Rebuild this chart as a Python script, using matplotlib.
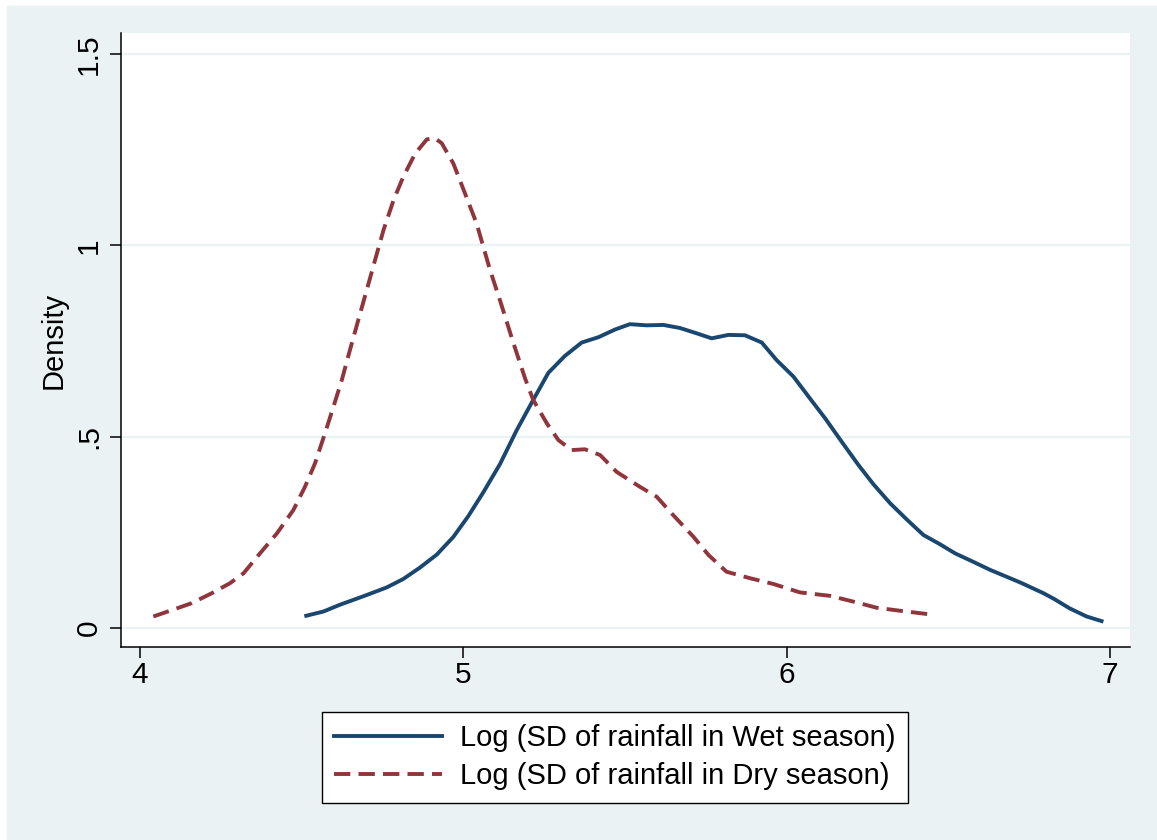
import matplotlib
matplotlib.use("Agg")
import matplotlib.pyplot as plt
from matplotlib.patches import Rectangle

plt.rcParams['font.family'] = ['Liberation Sans', 'DejaVu Sans']

# kernel density estimates
wet_x = [4.514, 4.567, 4.619, 4.691, 4.763, 4.814, 4.866, 4.918, 4.969, 5.015,
         5.062, 5.113, 5.165, 5.216, 5.263, 5.314, 5.366, 5.418, 5.469, 5.515,
         5.567, 5.619, 5.670, 5.722, 5.768, 5.820, 5.871, 5.923, 5.969, 6.021,
         6.072, 6.119, 6.170, 6.222, 6.268, 6.320, 6.371, 6.423, 6.474, 6.521,
         6.577, 6.629, 6.680, 6.725, 6.794, 6.827, 6.876, 6.928, 6.974]
wet_y = [0.032, 0.043, 0.061, 0.083, 0.106, 0.128, 0.158, 0.192, 0.238, 0.292,
         0.355, 0.428, 0.517, 0.596, 0.667, 0.711, 0.746, 0.760, 0.780, 0.794,
         0.791, 0.792, 0.784, 0.770, 0.757, 0.766, 0.765, 0.746, 0.700, 0.657,
         0.600, 0.548, 0.487, 0.426, 0.376, 0.326, 0.284, 0.243, 0.219, 0.195,
         0.173, 0.152, 0.134, 0.118, 0.091, 0.076, 0.051, 0.030, 0.018]

dry_x = [4.041, 4.113, 4.160, 4.222, 4.278, 4.320, 4.371, 4.423, 4.474, 4.510,
         4.541, 4.572, 4.598, 4.624, 4.649, 4.675, 4.701, 4.727, 4.753, 4.784,
         4.814, 4.851, 4.887, 4.912, 4.933, 4.969, 5.005, 5.041, 5.082, 5.113,
         5.155, 5.191, 5.216, 5.258, 5.294, 5.335, 5.376, 5.423, 5.474, 5.546,
         5.598, 5.649, 5.711, 5.758, 5.814, 5.887, 5.959, 6.041, 6.134, 6.206,
         6.278, 6.351, 6.459]
dry_y = [0.030, 0.051, 0.065, 0.091, 0.117, 0.143, 0.195, 0.247, 0.308, 0.369,
         0.430, 0.509, 0.578, 0.648, 0.726, 0.805, 0.883, 0.962, 1.040, 1.118,
         1.179, 1.240, 1.277, 1.280, 1.267, 1.214, 1.136, 1.057, 0.937, 0.857,
         0.744, 0.652, 0.596, 0.535, 0.491, 0.465, 0.467, 0.452, 0.408, 0.369,
         0.343, 0.295, 0.239, 0.191, 0.147, 0.130, 0.115, 0.093, 0.084, 0.069,
         0.053, 0.045, 0.034]

x_ticks = [4, 5, 6, 7]
x_ticklabels = ['4', '5', '6', '7']
y_ticks = [0, 0.5, 1, 1.5]
y_ticklabels = ['0', '.5', '1', '1.5']

wet_label = 'Log (SD of rainfall in Wet season)'
dry_label = 'Log (SD of rainfall in Dry season)'

NAVY = '#1A476F'
MAROON = '#90353B'
BG = '#EAF2F3'

W, H = 1157, 840
fig = plt.figure(figsize=(W / 100, H / 100), dpi=100, facecolor='white')
# Stata-style light background (the picture is cropped, thin white strip top/left)
fig.patches.append(Rectangle((7 / W, 0), 1 - 7 / W, (H - 6) / H,
                             transform=fig.transFigure, color=BG, zorder=-10))

ax = fig.add_axes([121 / W, 1 - 647 / H, 1009 / W, 614 / H])
ax.set_facecolor('white')

ax.plot(wet_x, wet_y, color=NAVY, linewidth=2.8, label=wet_label,
        solid_joinstyle='round')
ax.plot(dry_x, dry_y, color=MAROON, linewidth=2.8, linestyle=(0, (4.2, 2.1)),
        label=dry_label)

ax.set_xlim(3.941, 7.062)
ax.set_ylim(-0.0497, 1.555)
ax.set_xticks(x_ticks)
ax.set_xticklabels(x_ticklabels)
ax.set_yticks(y_ticks)
ax.set_yticklabels(y_ticklabels, rotation=90, va='center')

ax.yaxis.grid(True, color=BG, linewidth=1.6)
ax.set_axisbelow(True)
for s in ['top', 'right']:
    ax.spines[s].set_visible(False)
for s in ['left', 'bottom']:
    ax.spines[s].set_linewidth(1.1)
    ax.spines[s].set_color('black')
ax.tick_params(axis='both', length=8, width=1.1, labelsize=21.5, colors='black')
ax.tick_params(axis='x', pad=2)
ax.tick_params(axis='y', pad=5)

ax.set_ylabel('Density', fontsize=21)
ax.yaxis.set_label_coords(-0.053, 0.5)

leg = fig.legend(loc='center left', bbox_to_anchor=(322 / W, 1 - 757 / H),
                 fontsize=21, frameon=True, fancybox=False, handlelength=3.7,
                 handletextpad=0.62, labelspacing=0.36, borderpad=0.42,
                 borderaxespad=0, framealpha=1)
leg.get_frame().set_edgecolor('black')
leg.get_frame().set_facecolor('white')
leg.get_frame().set_linewidth(1.0)

fig.savefig('out.png', dpi=100, facecolor='white')
